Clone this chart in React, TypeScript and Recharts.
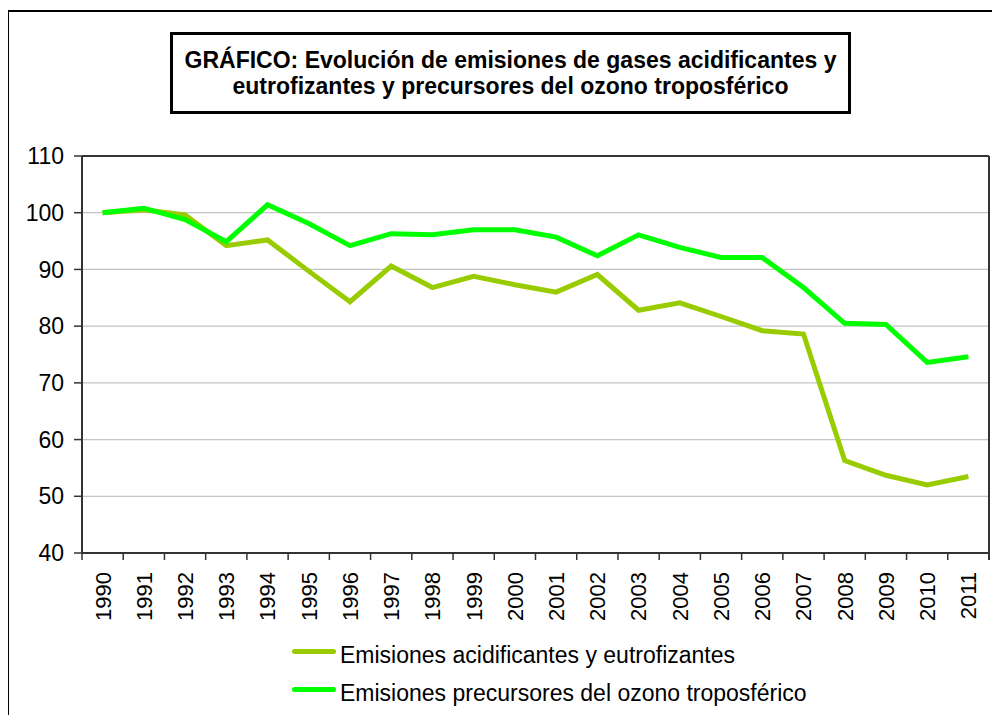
import React from 'react';
import { LineChart, Line, XAxis, YAxis, CartesianGrid } from 'recharts';

const years = ['1990','1991','1992','1993','1994','1995','1996','1997','1998','1999','2000','2001','2002','2003','2004','2005','2006','2007','2008','2009','2010','2011'];
const acidificantes = [100, 100.5, 99.6, 94.2, 95.2, 89.7, 84.3, 90.6, 86.8, 88.8, 87.3, 86.0, 89.1, 82.8, 84.1, 81.7, 79.2, 78.6, 56.3, 53.7, 52.0, 53.5];
const ozono = [100, 100.8, 98.8, 94.9, 101.4, 98.1, 94.2, 96.3, 96.1, 97.0, 97.0, 95.7, 92.4, 96.1, 93.9, 92.1, 92.1, 86.8, 80.5, 80.3, 73.6, 74.6];
const yTicks = [40, 50, 60, 70, 80, 90, 100, 110];
const seriesNames = ['Emisiones acidificantes y eutrofizantes', 'Emisiones precursores del ozono troposférico'];
const seriesColors = ['#99CC00', '#00FF00'];
const titleLines = ['GRÁFICO: Evolución de emisiones de gases acidificantes y', 'eutrofizantes y precursores del ozono troposférico'];

const data = years.map((year, i) => ({ year, acid: acidificantes[i], ozono: ozono[i] }));

const W = 1000;
const H = 715;
const M = { top: 156, right: 11, bottom: 92, left: 22 };
const YW = 60;
const XH = 70;
const PLOT_W = W - M.left - YW - M.right;
const PLOT_H = H - M.top - M.bottom - XH;
const BAND = PLOT_W / years.length;
const FONT = '"Liberation Sans", Arial, sans-serif';
const AXIS = { stroke: '#333', strokeWidth: 2 };

const XTick = (props: any) => {
  const { x, y, payload, index } = props;
  const last = index === years.length - 1;
  const rightX = x + BAND / 2;
  return (
    <g>
      <line x1={x - BAND / 2} x2={x - BAND / 2} y1={y} y2={y + 7} stroke="#333" strokeWidth={1.5} />
      {last && (
        <g>
          <line x1={rightX} x2={rightX} y1={y + 7} y2={y - PLOT_H} stroke="#333" strokeWidth={2} />
          <line x1={rightX - PLOT_W} x2={rightX} y1={y - PLOT_H} y2={y - PLOT_H} stroke="#333" strokeWidth={2} />
        </g>
      )}
      <text
        x={x}
        y={y + 19}
        transform={`rotate(-90 ${x} ${y + 19})`}
        textAnchor="end"
        dy="0.36em"
        fontSize={22}
        fill="#000"
        fontFamily={FONT}
      >
        {payload.value}
      </text>
    </g>
  );
};

export default function App() {
  return (
    <div style={{ position: 'relative', width: W, height: H, fontFamily: FONT }}>
      <div
        style={{
          position: 'absolute',
          left: -1,
          top: 2,
          width: 1010,
          height: 720,
          borderTop: '2.5px solid #000',
          borderLeft: '2.5px solid #000',
          boxSizing: 'border-box',
        }}
      />
      <div style={{ position: 'absolute', left: -8, top: -8 }}>
        <LineChart width={W} height={H} data={data} margin={M} style={{ fontFamily: FONT }}>
          <CartesianGrid horizontal vertical={false} stroke="#c4c4c4" strokeWidth={1.2} />
          <XAxis
            dataKey="year"
            height={XH}
            interval={0}
            padding={{ left: BAND / 2, right: BAND / 2 }}
            tickLine={false}
            tickSize={0}
            tickMargin={0}
            axisLine={AXIS}
            tick={<XTick />}
          />
          <YAxis
            width={YW}
            domain={[40, 110]}
            ticks={yTicks}
            interval={0}
            tickSize={8}
            tickMargin={10}
            axisLine={AXIS}
            tickLine={{ stroke: '#333', strokeWidth: 1.5 }}
            tick={{ fontSize: 23, fill: '#000', fontFamily: FONT }}
          />
          <Line type="linear" dataKey="acid" name={seriesNames[0]} stroke={seriesColors[0]} strokeWidth={5} dot={false} isAnimationActive={false} />
          <Line type="linear" dataKey="ozono" name={seriesNames[1]} stroke={seriesColors[1]} strokeWidth={5} dot={false} isAnimationActive={false} />
        </LineChart>
      </div>
      <div
        style={{
          position: 'absolute',
          left: 162,
          top: 24,
          width: 681,
          height: 82,
          border: '3px solid #000',
          boxSizing: 'border-box',
          background: '#fff',
          display: 'flex',
          flexDirection: 'column',
          alignItems: 'center',
          justifyContent: 'center',
          fontWeight: 'bold',
          fontSize: 23,
          lineHeight: '26px',
          color: '#000',
          whiteSpace: 'nowrap',
        }}
      >
        {titleLines.map((t) => (
          <div key={t}>{t}</div>
        ))}
      </div>
      {seriesNames.map((name, i) => (
        <div
          key={name}
          style={{
            position: 'absolute',
            left: 284,
            top: 633.5 + i * 38,
            height: 26,
            display: 'flex',
            alignItems: 'center',
            fontSize: 23,
            lineHeight: '26px',
            color: '#000',
            whiteSpace: 'nowrap',
          }}
        >
          <div style={{ width: 44, height: 5, borderRadius: 3, background: seriesColors[i], marginRight: 4, marginTop: -6 }} />
          <span>{name}</span>
        </div>
      ))}
    </div>
  );
}
